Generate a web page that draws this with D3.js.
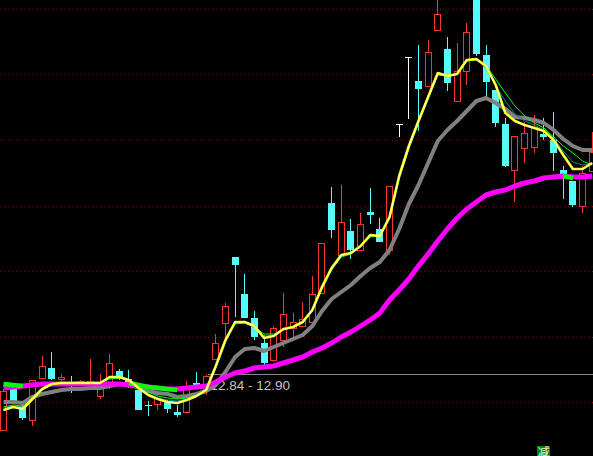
<!DOCTYPE html>
<html>
<head>
<meta charset="utf-8">
<script src="https://cdn.jsdelivr.net/npm/d3@7"></script>
<style>
  html, body { margin: 0; padding: 0; background: #000; overflow: hidden; }
  svg { display: block; }
</style>
</head>
<body>
<svg id="chart" width="593" height="456"></svg>
<script>
// daily candles, oldest first
var opens = [
  12.30, 12.73, 12.55, 12.40, 12.82, 12.93, 12.81, 12.78, 12.77, 12.77,
  12.64, 12.74, 12.90, 12.82, 12.71, 12.56, 12.56, 12.59, 12.49, 12.48,
  12.78, 12.71, 13.01, 13.37, 14.04, 13.67, 13.43, 13.18, 13.00, 13.20,
  13.32, 13.34, 13.38, 13.67, 14.58, 14.05, 14.30, 14.10, 14.49, 14.32,
  14.10, 15.37, 16.04, 15.80, 15.74, 16.30, 16.12, 15.59, 15.89, 16.63,
  16.06, 15.71, 15.37, 14.90, 15.12, 15.13, 15.27, 15.21, 14.91, 14.80,
  14.54, 14.89
];
var highs = [
  12.72, 12.77, 12.59, 12.81, 13.05, 13.09, 12.87, 12.85, 12.81, 13.02,
  12.87, 13.07, 12.92, 12.91, 12.73, 12.60, 12.63, 12.61, 12.56, 12.80,
  12.89, 12.86, 13.27, 13.58, 14.04, 13.87, 13.50, 13.26, 13.35, 13.68,
  13.48, 13.59, 13.85, 14.18, 14.74, 14.76, 14.42, 14.48, 14.73, 14.43,
  14.75, 15.37, 16.04, 16.16, 16.21, 16.64, 16.24, 16.18, 16.38, 16.66,
  16.16, 15.71, 15.43, 15.25, 15.39, 15.46, 15.43, 15.49, 14.95, 14.80,
  14.95, 15.29
];
var lows = [
  12.30, 12.58, 12.41, 12.35, 12.82, 12.81, 12.78, 12.68, 12.75, 12.76,
  12.62, 12.72, 12.81, 12.73, 12.51, 12.45, 12.51, 12.48, 12.44, 12.48,
  12.72, 12.66, 13.01, 13.19, 13.44, 13.43, 13.21, 12.93, 12.99, 13.14,
  13.24, 13.34, 13.38, 13.67, 14.23, 14.05, 14.02, 14.10, 14.37, 14.19,
  14.06, 15.24, 15.42, 15.30, 15.74, 16.30, 15.70, 15.59, 15.76, 16.05,
  15.64, 15.34, 14.94, 14.59, 14.98, 15.08, 15.21, 14.90, 14.62, 14.54,
  14.48, 14.89
];
var closes = [
  12.70, 12.60, 12.43, 12.81, 12.95, 12.82, 12.84, 12.77, 12.80, 12.80,
  12.79, 12.98, 12.82, 12.74, 12.51, 12.55, 12.63, 12.52, 12.46, 12.75,
  12.73, 12.85, 13.18, 13.55, 13.96, 13.43, 13.24, 12.98, 13.33, 13.47,
  13.39, 13.42, 13.67, 14.18, 14.31, 14.39, 14.11, 14.37, 14.46, 14.19,
  14.75, 15.37, 16.04, 15.72, 16.09, 16.47, 15.78, 15.90, 16.29, 16.07,
  15.79, 15.38, 14.95, 15.25, 15.28, 15.34, 15.24, 15.08, 14.86, 14.56,
  14.88, 15.09
];

// moving averages
var maYellow = [
  12.51, 12.54, 12.52, 12.62, 12.72, 12.77, 12.78, 12.78, 12.78, 12.78,
  12.78, 12.84, 12.84, 12.81, 12.73, 12.66, 12.62, 12.59, 12.58, 12.61,
  12.65, 12.71, 12.95, 13.21, 13.39, 13.39, 13.35, 13.23, 13.25, 13.32,
  13.34, 13.39, 13.51, 13.74, 13.93, 14.06, 14.08, 14.15, 14.26, 14.25,
  14.44, 14.85, 15.15, 15.40, 15.64, 15.88, 15.85, 15.87, 16.01, 16.02,
  15.95, 15.76, 15.48, 15.40, 15.36, 15.33, 15.30, 15.21, 15.06, 14.92,
  14.92, 14.98
];
var maGreen = [
  12.54, 12.56, 12.55, 12.62, 12.71, 12.76, 12.78, 12.78, 12.78, 12.78,
  12.78, 12.82, 12.83, 12.81, 12.75, 12.69, 12.65, 12.63, 12.62, 12.63,
  12.66, 12.71, 12.93, 13.19, 13.37, 13.38, 13.34, 13.27, 13.27, 13.31,
  13.34, 13.38, 13.50, 13.72, 13.91, 14.04, 14.07, 14.14, 14.24, 14.25,
  14.42, 14.82, 15.12, 15.38, 15.62, 15.86, 15.85, 15.87, 16.00, 16.01,
  15.95, 15.82, 15.68, 15.55, 15.45, 15.38, 15.33, 15.24, 15.15, 15.08,
  15.00, 14.96
];
var maTeal = [
  12.53, 12.55, 12.54, 12.62, 12.71, 12.76, 12.78, 12.78, 12.78, 12.78,
  12.78, 12.83, 12.83, 12.81, 12.74, 12.67, 12.63, 12.61, 12.60, 12.62,
  12.65, 12.71, 12.94, 13.20, 13.38, 13.38, 13.34, 13.25, 13.26, 13.31,
  13.34, 13.38, 13.50, 13.73, 13.92, 14.05, 14.07, 14.14, 14.25, 14.25,
  14.43, 14.84, 15.14, 15.39, 15.63, 15.87, 15.85, 15.87, 16.00, 16.01,
  15.93, 15.75, 15.60, 15.47, 15.40, 15.36, 15.31, 15.23, 15.10, 14.99,
  14.96, 14.97
];
var maGray = [
  12.59, 12.59, 12.58, 12.64, 12.67, 12.69, 12.71, 12.72, 12.72, 12.73,
  12.73, 12.75, 12.77, 12.77, 12.73, 12.70, 12.68, 12.67, 12.64, 12.65,
  12.67, 12.70, 12.76, 12.89, 13.04, 13.12, 13.13, 13.10, 13.14, 13.18,
  13.22, 13.26, 13.35, 13.50, 13.62, 13.69, 13.76, 13.85, 13.93, 13.99,
  14.11, 14.32, 14.57, 14.76, 14.98, 15.20, 15.31, 15.40, 15.50, 15.60,
  15.63, 15.58, 15.52, 15.44, 15.43, 15.41, 15.38, 15.31, 15.22, 15.15,
  15.11, 15.11
];
var maMagenta = [
  12.73, 12.74, 12.75, 12.76, 12.77, 12.77, 12.77, 12.77, 12.77, 12.77,
  12.77, 12.77, 12.77, 12.76, 12.75, 12.74, 12.73, 12.72, 12.72, 12.73,
  12.74, 12.75, 12.79, 12.84, 12.88, 12.90, 12.93, 12.94, 12.95, 12.98,
  13.01, 13.04, 13.09, 13.13, 13.18, 13.24, 13.29, 13.35, 13.41, 13.48,
  13.61, 13.71, 13.82, 13.95, 14.07, 14.20, 14.32, 14.43, 14.52, 14.59,
  14.66, 14.69, 14.71, 14.75, 14.78, 14.80, 14.83, 14.84, 14.85, 14.84,
  14.84, 14.85
];
// thick green stretches, only where shown
var maGreenBold = [
  12.77, 12.76, 12.75, null, null, null, null, null, null, null,
  null, null, null, 12.78, 12.76, 12.74, 12.73, 12.72, 12.71, null,
  null, null, null, null, null, null, null, null, null, null,
  null, null, null, null, null, null, null, null, null, null,
  null, null, null, null, null, null, null, null, null, null,
  null, null, null, null, null, null, null, null, 14.85, 14.83,
  null, null
];

var gridPrices = [16.52, 15.865, 15.21, 14.555, 13.90, 13.245, 12.59];
var rangeLow = 12.84, rangeHigh = 12.90;
var rangeLabel = "12.84 - 12.90";
var cornerLabel = "减";

var RED = "#ff3232", CYAN = "#54fcfc", WHITE = "#ffffff";

var svg = d3.select("#chart");
var W = 593, H = 456;

svg.append("rect").attr("width", W).attr("height", H).attr("fill", "#000");

var x = d3.scaleLinear().domain([0, opens.length - 1]).range([3.5, 592.2]);
var y = d3.scaleLinear().domain([12.05, 16.61]).range([H, 0]);

function snap(v) { return Math.round(v) + 0.5; }

// dotted grid
svg.append("g")
  .selectAll("line")
  .data(gridPrices)
  .join("line")
  .attr("x1", 0).attr("x2", W)
  .attr("y1", d => snap(y(d))).attr("y2", d => snap(y(d)))
  .attr("stroke", "#8c0000")
  .attr("stroke-width", 1)
  .attr("stroke-dasharray", "1,3");

// candles
var candles = opens.map((o, i) => ({ i: i, o: o, h: highs[i], l: lows[i], c: closes[i] }));

var cg = svg.append("g").attr("shape-rendering", "crispEdges");
var groups = cg.selectAll("g").data(candles).join("g");

groups.each(function (d) {
  var g = d3.select(this);
  var left = Math.round(x(d.i) - 3.5);
  var mid = left + 3.5;
  var yH = Math.round(y(d.h)), yL = Math.round(y(d.l));
  var yO = Math.round(y(d.o)), yC = Math.round(y(d.c));
  if (d.c > d.o) {
    // up: hollow red
    if (yC > yH) g.append("line").attr("x1", mid).attr("x2", mid).attr("y1", yH).attr("y2", yC).attr("stroke", RED);
    if (yL > yO) g.append("line").attr("x1", mid).attr("x2", mid).attr("y1", yO).attr("y2", yL).attr("stroke", RED);
    g.append("rect")
      .attr("x", left + 0.5).attr("y", yC + 0.5)
      .attr("width", 6).attr("height", Math.max(1, yO - yC - 1))
      .attr("fill", "#000").attr("stroke", RED);
  } else if (d.c < d.o) {
    // down: filled cyan
    g.append("line").attr("x1", mid).attr("x2", mid).attr("y1", yH).attr("y2", yL).attr("stroke", CYAN);
    g.append("rect")
      .attr("x", left).attr("y", yO)
      .attr("width", 7).attr("height", Math.max(1, yC - yO))
      .attr("fill", CYAN);
  } else {
    g.append("line").attr("x1", mid).attr("x2", mid).attr("y1", yH).attr("y2", yL).attr("stroke", WHITE);
    g.append("line").attr("x1", left).attr("x2", left + 7).attr("y1", yO + 0.5).attr("y2", yO + 0.5).attr("stroke", WHITE);
  }
});

// price range marker
var rangeY = snap(y((rangeLow + rangeHigh) / 2));
svg.append("line")
  .attr("x1", 208).attr("x2", W)
  .attr("y1", rangeY).attr("y2", rangeY)
  .attr("stroke", "#8a8a8a").attr("stroke-width", 1)
  .attr("shape-rendering", "crispEdges");
svg.append("text")
  .attr("x", 210.5).attr("y", rangeY + 15)
  .attr("fill", "#c4c4c4")
  .attr("font-family", "'Liberation Sans', Arial, sans-serif")
  .attr("font-size", "13.5px")
  .text(rangeLabel);

// moving averages
var line = d3.line()
  .defined(v => v != null)
  .x((v, i) => x(i))
  .y(v => y(v));

var series = [
  { data: maGray, color: "#808080", width: 4 },
  { data: maMagenta, color: "#ff00ff", width: 5 },
  { data: maGreenBold, color: "#00ff00", width: 4.5 },
  { data: maTeal, color: "#008b8b", width: 1 },
  { data: maGreen, color: "#00ff00", width: 1 },
  { data: maYellow, color: "#ffff00", width: 2.6 },
  { data: maYellow, color: "#ffffff", width: 0.8 }
];

svg.append("g")
  .selectAll("path")
  .data(series)
  .join("path")
  .attr("d", s => line(s.data))
  .attr("fill", "none")
  .attr("stroke", s => s.color)
  .attr("stroke-width", s => s.width)
  .attr("stroke-linejoin", "round");

// corner tag
var tag = svg.append("g").attr("transform", "translate(537,446)");
tag.append("rect").attr("width", 13).attr("height", 13).attr("fill", "#008000");
tag.append("text")
  .attr("x", 6.5).attr("y", 11)
  .attr("text-anchor", "middle")
  .attr("fill", "#e8ffe8")
  .attr("font-family", "'Noto Sans CJK SC', sans-serif")
  .attr("font-size", "12px")
  .text(cornerLabel);
</script>
</body>
</html>
